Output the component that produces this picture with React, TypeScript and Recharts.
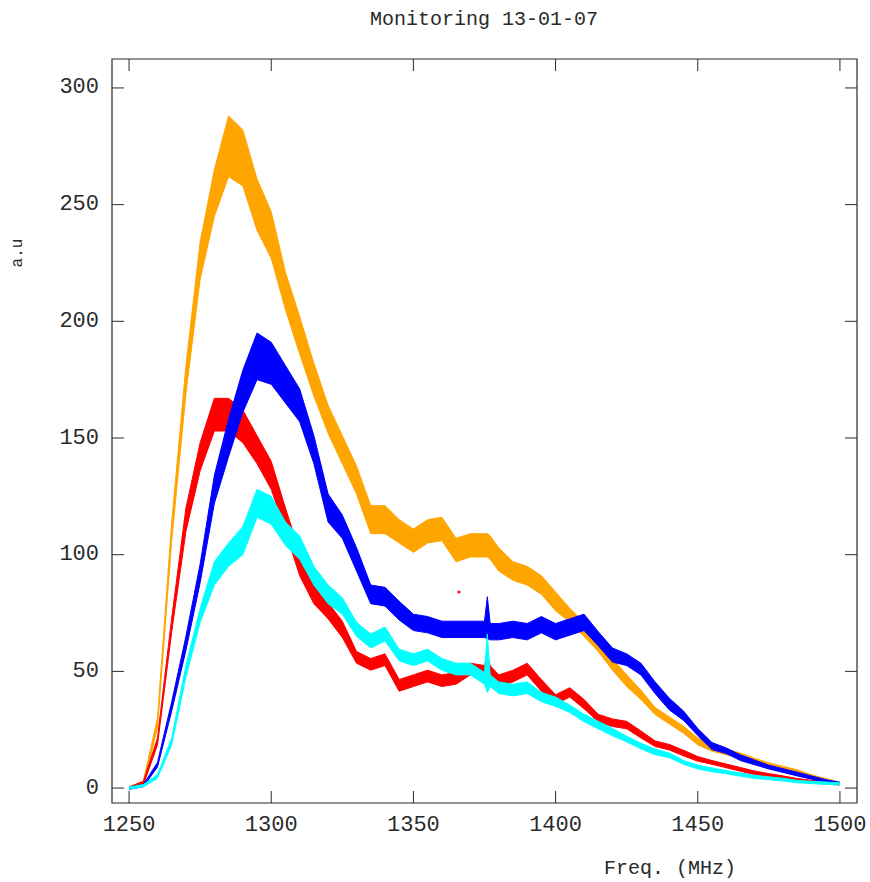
import { Area, ComposedChart, ReferenceArea, ReferenceDot, XAxis, YAxis } from "recharts";

// frequency samples (MHz)
const FREQS = [
  1250, 1255, 1260, 1265, 1270, 1275, 1280, 1285, 1290, 1295,
  1300, 1305, 1310, 1315, 1320, 1325, 1330, 1335, 1340, 1345,
  1350, 1355, 1360, 1365, 1370, 1375, 1376, 1377, 1380, 1385,
  1390, 1395, 1400, 1405, 1410, 1415, 1420, 1425, 1430, 1435,
  1440, 1445, 1450, 1455, 1460, 1465, 1470, 1475, 1480, 1485,
  1490, 1495, 1500
];

// mean level and noise half-width for every trace
const ORANGE = [
  0, 2, 28, 110, 175, 226, 255, 275, 270, 250,
  237, 213, 194, 175, 158, 145, 132, 115, 115, 110,
  106, 110, 111, 102, 104, 104, 104, 103, 98, 93,
  91, 87, 80, 74, 68, 61, 53, 46, 40, 33,
  29, 25, 20, 17, 15.5, 14, 12, 10, 8.5, 7,
  5, 3.5, 2
];
const ORANGE_NOISE = [
  0.5, 1, 2, 4, 6, 8, 10, 13, 12, 11,
  10, 8, 8, 7, 6, 6, 6, 6, 6, 5,
  5, 5, 5, 5, 5, 5, 5, 5, 5, 4,
  4, 4, 4, 3, 3, 2.5, 2.5, 2.5, 2, 1.5,
  1.5, 1.5, 1.5, 1.2, 1.2, 1, 0.8, 0.8, 0.8, 0.8,
  0.7, 0.6, 0.5
];

const BLUE = [
  0, 1, 10, 35, 62, 92, 128, 150, 170, 185,
  182, 173, 164, 145, 120, 112, 98, 83, 82, 76,
  71, 70, 68, 68, 68, 68, 73, 67, 67, 68,
  67, 70, 67, 69, 71, 64, 57, 55, 51, 43,
  36, 31, 24, 18, 16, 13, 11, 9, 7.5, 6,
  4.5, 3, 2
];
const BLUE_NOISE = [
  0.5, 0.5, 1, 2, 3, 4, 6, 8, 9, 10,
  9, 8, 7, 6, 6, 5, 5, 4, 4, 4,
  3.5, 3.5, 3.5, 3.5, 3.5, 3.5, 9, 3.5, 3.5, 3.5,
  3.5, 3.5, 3.5, 3.5, 3.5, 3, 3, 2.5, 2.5, 2.5,
  2.5, 2, 1.5, 1.5, 1.2, 1.2, 1, 0.8, 0.8, 0.8,
  0.7, 0.6, 0.5
];

const RED = [
  0, 2, 20, 70, 115, 142, 160, 160, 155, 145,
  134, 115, 96, 83, 76, 68, 56, 53, 55, 44,
  46, 48, 46, 47, 51, 50, 52, 50, 46, 48,
  51, 44, 38, 41, 36, 30, 28, 27, 23, 19,
  17.5, 15, 12.5, 11, 9.5, 8, 6.5, 5.5, 4.5, 3.5,
  2.8, 2.2, 1.8
];
const RED_NOISE = [
  0.5, 0.8, 1.5, 3, 5, 6, 7, 7, 7, 6,
  6, 5, 5, 4, 3.5, 3.5, 2.5, 2.5, 2.5, 2.5,
  2.5, 2.5, 2.5, 2.5, 2.5, 2.5, 5, 2.5, 2.5, 2.5,
  2.5, 2.5, 2, 2, 2, 1.6, 1.6, 1.6, 1.5, 1.2,
  1.2, 1.2, 1, 0.8, 0.8, 0.8, 0.8, 0.7, 0.7, 0.6,
  0.5, 0.5, 0.5
];

const CYAN = [
  0, 1, 5, 20, 50, 74, 92, 100, 106, 122,
  119, 109, 103, 91, 83, 78, 68, 63, 66, 57,
  55, 57, 53, 51, 51, 47, 53.5, 46, 43, 42,
  43, 39, 37, 34, 30, 27, 24, 21, 18, 15.5,
  14, 11, 9, 7.8, 6.8, 5.8, 4.8, 4.2, 3.6, 2.8,
  2.4, 2.1, 1.8
];
const CYAN_NOISE = [
  0.5, 0.5, 0.8, 1.5, 2.5, 3, 5, 5, 6, 6,
  6, 5, 5, 4, 4, 3.5, 3, 3, 3, 2.5,
  2.5, 2.5, 2.5, 2.5, 2.5, 2.5, 12.5, 2.5, 2.5, 2.5,
  2.5, 2, 2, 1.6, 1.6, 1.6, 1.6, 1.2, 1.2, 1.2,
  1, 0.8, 0.8, 0.8, 0.7, 0.7, 0.7, 0.6, 0.6, 0.5,
  0.5, 0.5, 0.5
];

// stray red sample
const RED_OUTLIER = [{ f: 1366, v: 84 }];

const X_TICKS = [1250, 1300, 1350, 1400, 1450, 1500];
const Y_TICKS = [0, 50, 100, 150, 200, 250, 300];
const X_DOMAIN = [1244, 1506];
const Y_DOMAIN = [-6.4, 312.4];

const W = 870;
const H = 882;
const BOX = { left: 112, right: 857, top: 59, bottom: 803 };
const Y_AXIS_W = 40;
const X_AXIS_H = 30;
const FONT = "'Liberation Mono', 'Courier New', monospace";
const INK = "#2a2a2a";
const TICK = 12;

const band = (c: number[], n: number[], i: number) => [c[i] - n[i], c[i] + n[i]];

const data = FREQS.map((f, i) => ({
  f,
  orange: band(ORANGE, ORANGE_NOISE, i),
  blue: band(BLUE, BLUE_NOISE, i),
  red: band(RED, RED_NOISE, i),
  cyan: band(CYAN, CYAN_NOISE, i)
}));

function XTick(props: any) {
  const { x, payload } = props;
  return (
    <g>
      <line x1={x} x2={x} y1={BOX.bottom} y2={BOX.bottom - TICK} stroke={INK} />
      <line x1={x} x2={x} y1={BOX.top} y2={BOX.top + TICK} stroke={INK} />
      <text x={x} y={825} textAnchor="middle" dominantBaseline="central" fontFamily={FONT} fontSize={22} fill={INK}>
        {payload.value}
      </text>
    </g>
  );
}

function YTick(props: any) {
  const { y, payload } = props;
  return (
    <g>
      <line x1={BOX.left} x2={BOX.left + TICK} y1={y} y2={y} stroke={INK} />
      <line x1={BOX.right} x2={BOX.right - TICK} y1={y} y2={y} stroke={INK} />
      <text x={99} y={y} textAnchor="end" dominantBaseline="central" fontFamily={FONT} fontSize={22} fill={INK}>
        {payload.value}
      </text>
    </g>
  );
}

const SERIES = [
  { key: "orange", color: "#ffa500" },
  { key: "red", color: "#ff0000" },
  { key: "blue", color: "#0000ff" },
  { key: "cyan", color: "#00ffff" }
];

export default function App() {
  return (
    <div style={{ position: "absolute", left: 0, top: 0, width: W, height: H, background: "#fff" }}>
      <ComposedChart
        width={W}
        height={H}
        data={data}
        margin={{
          top: BOX.top,
          right: W - BOX.right,
          bottom: H - BOX.bottom - X_AXIS_H,
          left: BOX.left - Y_AXIS_W
        }}
      >
        <XAxis
          dataKey="f"
          type="number"
          domain={X_DOMAIN}
          ticks={X_TICKS}
          allowDataOverflow
          interval={0}
          height={X_AXIS_H}
          axisLine={false}
          tickLine={false}
          tick={<XTick />}
        />
        <YAxis
          type="number"
          domain={Y_DOMAIN}
          ticks={Y_TICKS}
          allowDataOverflow
          interval={0}
          width={Y_AXIS_W}
          axisLine={false}
          tickLine={false}
          tick={<YTick />}
        />
        {SERIES.map((s) => (
          <Area
            key={s.key}
            type="linear"
            dataKey={s.key}
            stroke={s.color}
            strokeWidth={1}
            fill={s.color}
            fillOpacity={1}
            dot={false}
            activeDot={false}
            isAnimationActive={false}
          />
        ))}
        {RED_OUTLIER.map((p) => (
          <ReferenceDot key={p.f} x={p.f} y={p.v} r={1.5} fill="#ff0000" stroke="none" />
        ))}
        <ReferenceArea
          x1={X_DOMAIN[0]}
          x2={X_DOMAIN[1]}
          y1={Y_DOMAIN[0]}
          y2={Y_DOMAIN[1]}
          fill="none"
          stroke={INK}
          strokeWidth={1.2}
          ifOverflow="visible"
        />
      </ComposedChart>
      <div
        style={{
          position: "absolute",
          left: 0,
          width: 968,
          top: 8,
          textAlign: "center",
          fontFamily: FONT,
          fontSize: 20,
          color: INK
        }}
      >
        Monitoring 13-01-07
      </div>
      <div
        style={{
          position: "absolute",
          left: 18,
          top: 253,
          transform: "translate(-50%, -50%) rotate(-90deg)",
          fontFamily: FONT,
          fontSize: 16,
          color: INK,
          whiteSpace: "nowrap"
        }}
      >
        a.u
      </div>
      <div
        style={{
          position: "absolute",
          left: 670,
          top: 868,
          transform: "translate(-50%, -50%)",
          fontFamily: FONT,
          fontSize: 20,
          color: INK,
          whiteSpace: "nowrap"
        }}
      >
        Freq. (MHz)
      </div>
    </div>
  );
}
